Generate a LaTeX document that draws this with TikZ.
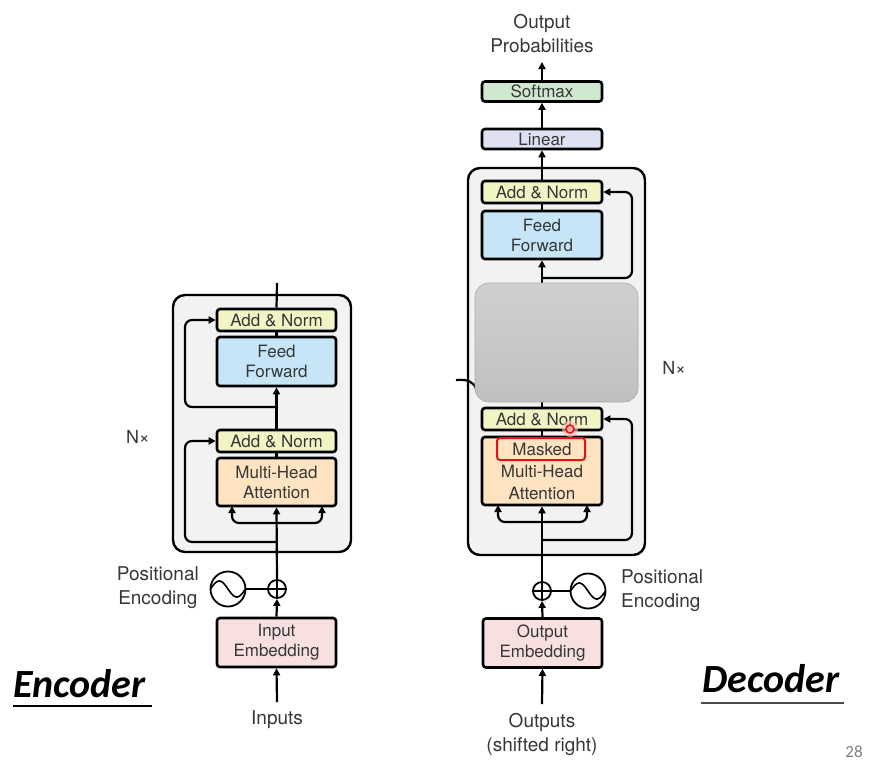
\documentclass[tikz,border=0pt]{standalone}
\usepackage{fontspec}
\setmainfont{TeX Gyre Heros}
\newfontfamily\califont{Carlito}
\usetikzlibrary{arrows.meta,calc}
\definecolor{txt}{RGB}{55,55,55}
\definecolor{outerg}{RGB}{242,242,242}
\definecolor{anY}{RGB}{243,244,198}
\definecolor{ffB}{RGB}{198,230,247}
\definecolor{mhaO}{RGB}{253,227,192}
\definecolor{embP}{RGB}{248,223,224}
\definecolor{smG}{RGB}{207,232,207}
\definecolor{linL}{RGB}{222,225,242}
\definecolor{greyT}{RGB}{208,208,208}
\definecolor{greyB}{RGB}{192,192,192}
\definecolor{greyE}{RGB}{170,170,170}
\definecolor{pagenum}{RGB}{127,127,127}
\definecolor{redbox}{RGB}{225,20,20}
\begin{document}
\begin{tikzpicture}[x=1pt,y=-1pt,
  blk/.style={draw=black, line width=2.6pt, rounded corners=3pt, inner sep=0pt,
     text=txt, font=\fontsize{17}{20}\selectfont, align=center, minimum width=119pt},
  outerbox/.style={draw=black, line width=2.4pt, fill=outerg, rounded corners=12pt, inner sep=0pt},
  ln/.style={line width=2.2pt, draw=black},
  arr/.style={ln, -{Triangle[length=7pt,width=7pt]}},
  lbl/.style={text=txt, font=\fontsize{19}{24}\selectfont, align=center, inner sep=0pt},
  plusc/.style={circle, draw=black, line width=1.8pt, minimum size=18pt, inner sep=0pt},
  pec/.style={circle, draw=black, line width=1.8pt, minimum size=35pt, inner sep=0pt},
  title/.style={font=\califont\bfseries\itshape\fontsize{40}{44}\selectfont, inner sep=0pt, anchor=base west}
]
\useasboundingbox (0,0) rectangle (872,772);
\fill[white] (0,0) rectangle (872,772);

% ================= ENCODER =================
\node[outerbox, minimum width=178pt, minimum height=257pt] (eBlock) at (262,423.5) {};
\node[blk, fill=anY, minimum height=22pt] (eAN2) at (276.5,320) {Add \& Norm};
\node[blk, fill=ffB, minimum height=49pt] (eFF) at (276.5,361.5) {Feed\\Forward};
\node[blk, fill=anY, minimum height=22pt] (eAN1) at (276.5,441) {Add \& Norm};
\node[blk, fill=mhaO, minimum height=48pt] (eMHA) at (276.5,482) {Multi-Head\\Attention};
\node[blk, fill=embP, minimum height=49pt] (eEmb) at (276.5,642.5) {Input\\Embedding};
\node[plusc] (ePlus) at (277,589) {};
\draw[line width=1.5pt] (ePlus.north) -- (ePlus.south) (ePlus.west) -- (ePlus.east);
\node[pec] (ePE) at (228,589) {};
\draw[line width=1.6pt] plot[smooth, domain=-1:1, samples=40] ({228+17.5*\x},{589+8*sin(\x*180)});
\node[lbl, anchor=east] (ePEtxt) at (199,588) {Positional\\Encoding};
\node[lbl] (eInputs) at (277,720) {Inputs};
\node[lbl, font=\fontsize{18}{20}\selectfont] (eNx) at (138,437) {N×};

\coordinate (eInTop) at (277,702);
\coordinate (eOutTop) at (277,283);
\coordinate (eSplit) at (277,523);
\coordinate (eRes1) at (277,542);
\coordinate (eRes2) at (277,407);

\draw[arr] (eInTop) -- (eEmb.south);
\draw[arr] (eEmb.north) -- (ePlus.south);
\draw[ln] (ePE.east) -- (ePlus.west);
\draw[arr] (ePlus.north) -- (eMHA.south);
\draw[arr, rounded corners=7pt] (eSplit) -- (232,523) -- (232,506);
\draw[arr, rounded corners=7pt] (eSplit) -- (322,523) -- (322,506);
\draw[arr, rounded corners=7pt] (eRes1) -- (185,542) -- (185,441) -- (eAN1.west);
\draw[ln] (eMHA.north) -- (eAN1.south);
\draw[arr] (eAN1.north) -- (eFF.south);
\draw[arr, rounded corners=7pt] (eRes2) -- (185,407) -- (185,320) -- (eAN2.west);
\draw[ln] (eFF.north) -- (eAN2.south);
\draw[ln] (eAN2.north) -- (eOutTop);

% ================= DECODER =================
\node[outerbox, minimum width=177pt, minimum height=387pt] (dBlock) at (556.5,361.5) {};
\node[blk, fill=anY, minimum width=120pt, minimum height=22pt] (dAN2) at (542,192) {Add \& Norm};
\node[blk, fill=ffB, minimum width=120pt, minimum height=48pt] (dFF) at (542,235) {Feed\\Forward};
\node[blk, fill=anY, minimum width=120pt, minimum height=22pt] (dAN1) at (542,419) {Add \& Norm};
\node[blk, fill=mhaO, minimum width=120pt, minimum height=68pt, font=\fontsize{17}{22}\selectfont] (dMHA) at (542,471) {Masked\\Multi-Head\\Attention};
\node[blk, fill=embP, minimum width=119pt, minimum height=49pt] (dEmb) at (542.5,643) {Output\\Embedding};
\node[blk, fill=linL, minimum width=120pt, minimum height=20pt] (dLin) at (542,139) {Linear};
\node[blk, fill=smG, minimum width=120pt, minimum height=20pt] (dSm) at (542,91.5) {Softmax};
\node[plusc] (dPlus) at (542,591) {};
\draw[line width=1.5pt] (dPlus.north) -- (dPlus.south) (dPlus.west) -- (dPlus.east);
\node[pec] (dPE) at (588,591) {};
\draw[line width=1.6pt] plot[smooth, domain=-1:1, samples=40] ({588+17.5*\x},{591+8*sin(\x*180)});
\node[lbl, anchor=west, align=left] (dPEtxt) at (621,591) {Positional\\Encoding};
\node[lbl] (dOutputs) at (542,734) {Outputs\\(shifted right)};
\node[lbl] (dProb) at (542,34) {Output\\Probabilities};
\node[lbl, font=\fontsize{18}{20}\selectfont] (dNx) at (674,368) {N×};

\coordinate (dInTop) at (542,704);
\coordinate (dProbBot) at (542,62);
\coordinate (dSplit) at (542,522);
\coordinate (dRes1) at (542,540);
\coordinate (dRes2) at (542,278);
\coordinate (dGreyBot) at (542,402);
\coordinate (dGreyTop) at (542,283);

\draw[arr] (dInTop) -- (dEmb.south);
\draw[arr] (dEmb.north) -- (dPlus.south);
\draw[ln] (dPlus.east) -- (dPE.west);
\draw[arr] (dPlus.north) -- (dMHA.south);
\draw[arr, rounded corners=7pt] (dSplit) -- (498,522) -- (498,505);
\draw[arr, rounded corners=7pt] (dSplit) -- (587,522) -- (587,505);
\draw[arr, rounded corners=7pt] (dRes1) -- (632,540) -- (632,419) -- (dAN1.east);
\draw[ln] (dMHA.north) -- (dAN1.south);
\draw[ln] (dAN1.north) -- (dGreyBot);
\draw[ln] (dGreyTop) -- (dRes2);
\draw[arr] (dRes2) -- (dFF.south);
\draw[arr, rounded corners=7pt] (dRes2) -- (632,278) -- (632,192) -- (dAN2.east);
\draw[ln] (dFF.north) -- (dAN2.south);
\draw[arr] (dAN2.north) -- (dLin.south);
\draw[arr] (dLin.north) -- (dSm.south);
\draw[arr] (dSm.north) -- (dProbBot);

% hook of hidden cross connection
\coordinate (hookA) at (456,380);
\coordinate (hookB) at (476,389);
\draw[ln] (hookA) .. controls (468,379) and (474,382) .. (hookB);

% grey overlay
\node[draw=greyE, line width=0.6pt, top color=greyT, bottom color=greyB, rounded corners=14pt,
      minimum width=163pt, minimum height=119pt, inner sep=0pt] (dGrey) at (556.5,342.5) {};

% red highlight of "Masked"
\node[draw=redbox, line width=2pt, rounded corners=3pt, minimum width=88pt, minimum height=22pt, inner sep=0pt] (dRed) at (541,449) {};
\fill[red!25, opacity=0.6] (570,429) circle (8pt);
\node[circle, draw=redbox, line width=1.6pt, fill=red!30, minimum size=8pt, inner sep=0pt] (dCursor) at (570,429) {};

% ================= TITLES =================
\node[title] (encT) at (13,697) {Encoder};
\draw[line width=1.2pt] (13,706) -- (152,706);
\node[title] (decT) at (702,692) {Decoder};
\draw[line width=1.2pt, draw=black!70] (701,703) -- (844,703);
\node[text=pagenum, font=\califont\fontsize{17}{20}\selectfont, inner sep=0pt] (pg) at (854,752) {28};
\end{tikzpicture}
\end{document}
